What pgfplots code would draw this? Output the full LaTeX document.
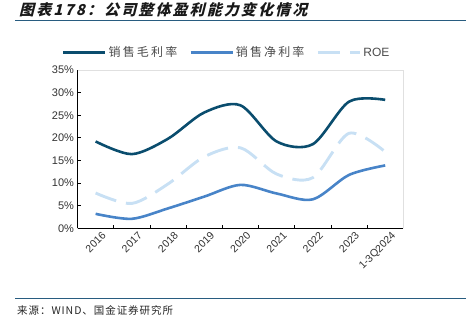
\documentclass[border=0pt]{standalone}
\usepackage{pgfplots}
\pgfplotsset{compat=1.18}
\usepackage{fontspec}
\setmainfont{Liberation Sans}
\newfontfamily\cjk{Noto Sans CJK SC}
\newfontfamily\cjkleg[LetterSpace=18]{Noto Sans CJK SC}
\newfontfamily\cjkfoot[LetterSpace=9]{Noto Sans CJK SC}
\newfontfamily\cjktitle[FakeSlant=0.25,LetterSpace=14]{Noto Sans CJK SC}
\definecolor{cdark}{RGB}{10,77,110}
\definecolor{cmid}{RGB}{72,132,200}
\definecolor{clight}{RGB}{200,224,244}
\definecolor{crule}{RGB}{40,92,128}
\definecolor{ctext}{RGB}{50,50,50}
\begin{document}
\begin{tikzpicture}[x=1bp,y=1bp]
\useasboundingbox (0,0) rectangle (466,330);
% title
\node[anchor=west,inner sep=0pt,text=black!90] at (19,320) {\cjktitle\bfseries\fontsize{15bp}{17bp}\selectfont 图表178：公司整体盈利能力变化情况};
\draw[crule,line width=1.3bp] (15,309.3) -- (466,309.3);
% footer
\draw[crule,line width=1.3bp] (15,31.7) -- (466,31.7);
\node[anchor=west,inner sep=0pt,text=black!85] at (17,20) {\cjkfoot\fontsize{10.5bp}{12bp}\selectfont 来源：WIND、国金证券研究所};
\begin{axis}[
  at={(77.5bp,101.7bp)}, anchor=south west,
  scale only axis, width=325.8bp, height=158.3bp,
  xmin=-0.5, xmax=8.5, ymin=0, ymax=35,
  axis x line*=bottom, axis y line*=left,
  axis line style={black, line width=0.9bp},
  xtick={0,...,8},
  xticklabels={2016,2017,2018,2019,2020,2021,2022,2023,1-3Q2024},
  major x tick style={draw=none},
  minor xtick={-0.5,0.5,...,8.5},
  minor x tick style={black, line width=0.8bp},
  minor tick length=3.5bp,
  tick align=inside,
  ytick={0,5,...,35},
  yticklabel={\pgfmathprintnumber{\tick}\%},
  major y tick style={black, line width=0.8bp},
  major tick length=3.5bp,
  x tick label style={rotate=45, anchor=north east, font=\fontsize{10.5bp}{12bp}\selectfont, text=ctext, inner sep=0bp, xshift=2bp, yshift=-6bp},
  y tick label style={font=\fontsize{11bp}{12bp}\selectfont, text=ctext},
  /pgf/number format/assume math mode=true,
  legend columns=3,
  legend style={at={(0.458,1.11)}, anchor=center, draw=none, fill=none,
    font=\fontsize{12bp}{14bp}\selectfont, text=black!70,
    /tikz/every even column/.append style={column sep=10bp}},
  legend image code/.code={\draw[#1] (0bp,0bp) -- (42bp,0bp);},
  every axis plot/.append style={smooth, line width=2.6bp},
  after end axis/.code={\draw[black!12, line width=0.6bp] (rel axis cs:0,1) -- (rel axis cs:1,1) -- (rel axis cs:1,0);},
  clip=false,
]
\addplot[cdark] coordinates {(0,19.2) (1,16.4) (2,19.8) (3,25.6) (4,27.2) (5,19.2) (6,18.6) (7,28.0) (8,28.4)};
\addlegendentry{\cjkleg 销售毛利率}
\addplot[cmid] coordinates {(0,3.2) (1,2.1) (2,4.4) (3,7.0) (4,9.6) (5,7.7) (6,6.4) (7,11.8) (8,13.9)};
\addlegendentry{\cjkleg 销售净利率}
\addplot[clight, line width=2.9bp, dash pattern=on 22bp off 10bp] coordinates {(0,7.8) (1,5.5) (2,9.8) (3,15.8) (4,17.8) (5,12.0) (6,11.2) (7,21.0) (8,16.9)};
\addlegendentry{ROE}
\end{axis}
\end{tikzpicture}
\end{document}
